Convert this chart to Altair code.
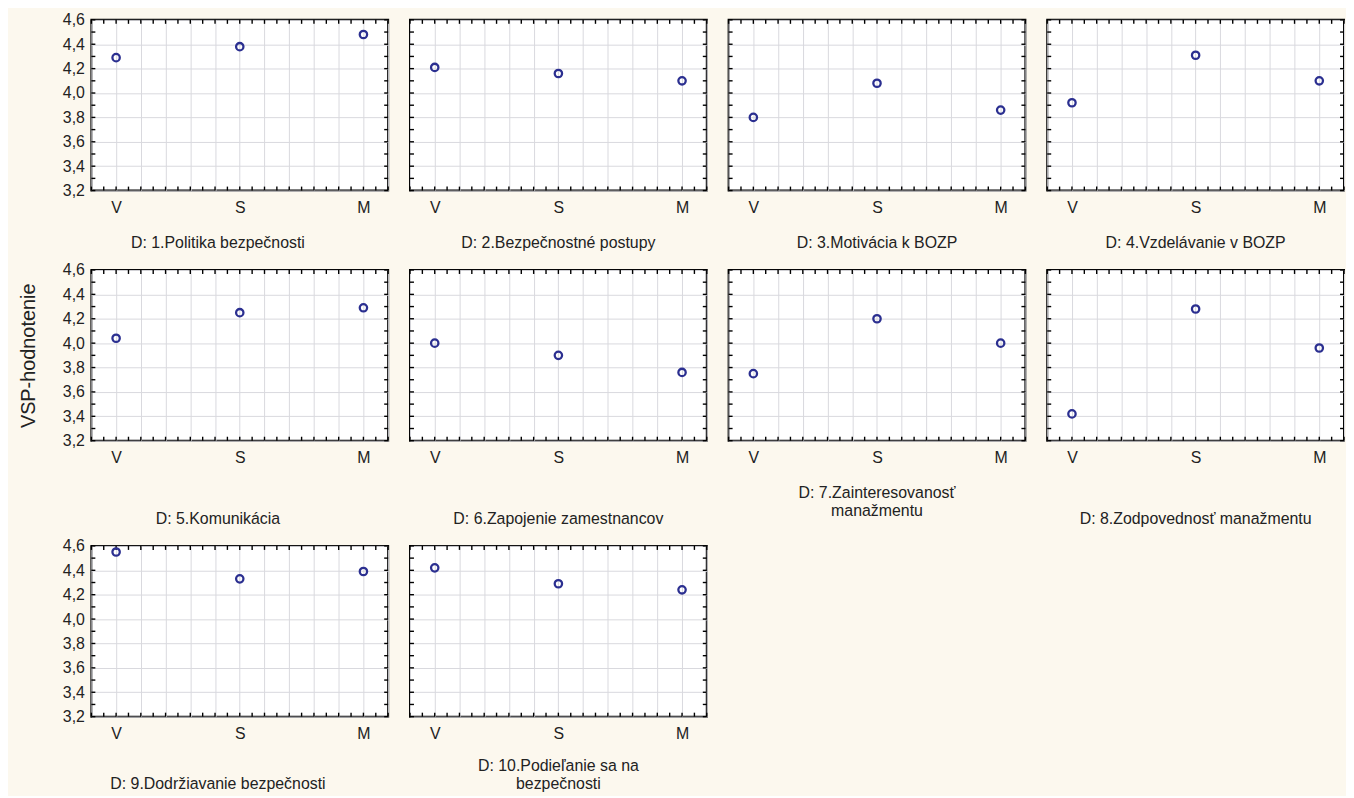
import json
import altair as alt
import pandas as pd

# ---------------- data ----------------
CATS = ["V", "S", "M"]
TITLES = [
    ["D: 1.Politika bezpečnosti"],
    ["D: 2.Bezpečnostné postupy"],
    ["D: 3.Motivácia k BOZP"],
    ["D: 4.Vzdelávanie v BOZP"],
    ["D: 5.Komunikácia"],
    ["D: 6.Zapojenie zamestnancov"],
    ["D: 7.Zainteresovanosť", "manažmentu"],
    ["D: 8.Zodpovednosť manažmentu"],
    ["D: 9.Dodržiavanie bezpečnosti"],
    ["D: 10.Podieľanie sa na", "bezpečnosti"],
]
V_VALUES = [4.29, 4.21, 3.80, 3.92, 4.04, 4.00, 3.75, 3.42, 4.55, 4.42]
S_VALUES = [4.38, 4.16, 4.08, 4.31, 4.25, 3.90, 4.20, 4.28, 4.33, 4.29]
M_VALUES = [4.48, 4.10, 3.86, 4.10, 4.29, 3.76, 4.00, 3.96, 4.39, 4.24]

Y_GRID = [3.2, 3.4, 3.6, 3.8, 4.0, 4.2, 4.4, 4.6]
X_GRID = [-0.2, 0, 0.2, 0.4, 0.6, 0.8, 1, 1.2, 1.4, 1.6, 1.8, 2, 2.2]
Y_MINOR = [3.2, 3.3, 3.4, 3.5, 3.6, 3.7, 3.8, 3.9, 4.0, 4.1, 4.2, 4.3, 4.4, 4.5, 4.6]
X_MINOR = [-0.2, -0.1, 0, 0.1, 0.2, 0.3, 0.4, 0.5, 0.6, 0.7, 0.8, 0.9, 1,
           1.1, 1.2, 1.3, 1.4, 1.5, 1.6, 1.7, 1.8, 1.9, 2, 2.1, 2.2]
Y_TITLE = "VSP-hodnotenie"

# ---------------- style ----------------
W, H = 299, 172
FONT = "Liberation Sans"
BG = "#FCF8EE"
TEXT = "#222222"
POINT_COLOR = "#2B2F90"
GRID = "#D9D9DE"
TICK_LEN = 4
TITLE_OFFSETS = [20, 20, 20, 20, 46, 46, 20, 46, 35, 17]
FIRST_COL_TITLE_DX = -22

xscale = alt.Scale(domain=[-0.2, 2.2], nice=False, zero=False)
yscale = alt.Scale(domain=[3.2, 4.6], nice=False, zero=False)

x_label_expr = json.dumps(CATS) + "[datum.value] || ''"
y_label_expr = "replace(format(datum.value, '.1f'), '.', ',')"


def panel(i):
    col = i % 4
    df = pd.DataFrame({
        "cat": CATS,
        "pos": [CATS.index(c) for c in CATS],
        "value": [V_VALUES[i], S_VALUES[i], M_VALUES[i]],
    })
    yaxis_kw = dict(values=Y_GRID, grid=True, gridColor=GRID, gridWidth=1,
                    ticks=False, domain=False, labelExpr=y_label_expr,
                    labelOverlap=False, labelFlush=False,
                    labelPadding=7, labelFontSize=16, labelColor=TEXT,
                    labelFont=FONT)
    if col == 0:
        yaxis_kw.update(title=Y_TITLE, titleFontSize=20, titleFont=FONT,
                        titleFontWeight="normal", titleColor=TEXT,
                        titlePadding=24, titleOpacity=1 if i == 4 else 0)
    else:
        yaxis_kw.update(labels=False, title=None)
    yaxis = alt.Axis(**yaxis_kw)
    xaxis = alt.Axis(values=X_GRID, grid=True, gridColor=GRID, gridWidth=1,
                     ticks=False, domain=False, labelExpr=x_label_expr,
                     labelOverlap=False, labelFlush=False, labelPadding=9,
                     labelFontSize=16, labelColor=TEXT, labelFont=FONT,
                     title=None)

    pts = alt.Chart(df).mark_point(
        shape="circle", filled=False, size=55, strokeWidth=2.3,
        color=POINT_COLOR, opacity=1
    ).encode(
        x=alt.X("pos:Q", scale=xscale, axis=xaxis),
        y=alt.Y("value:Q", scale=yscale, axis=yaxis),
    )

    ydf = pd.DataFrame({"value": Y_MINOR})
    xdf = pd.DataFrame({"pos": X_MINOR})
    rule = dict(color="black", strokeWidth=1.4)
    left = alt.Chart(ydf).mark_rule(**rule).encode(
        y=alt.Y("value:Q", scale=yscale, axis=yaxis),
        x=alt.value(0), x2=alt.value(TICK_LEN))
    right = alt.Chart(ydf).mark_rule(**rule).encode(
        y=alt.Y("value:Q", scale=yscale, axis=yaxis),
        x=alt.value(W - TICK_LEN), x2=alt.value(W))
    top = alt.Chart(xdf).mark_rule(**rule).encode(
        x=alt.X("pos:Q", scale=xscale, axis=xaxis),
        y=alt.value(0), y2=alt.value(TICK_LEN))
    bottom = alt.Chart(xdf).mark_rule(**rule).encode(
        x=alt.X("pos:Q", scale=xscale, axis=xaxis),
        y=alt.value(H - TICK_LEN), y2=alt.value(H))

    return alt.layer(left, right, top, bottom, pts).properties(
        width=W, height=H,
        title=alt.TitleParams(text=TITLES[i], orient="bottom", anchor="middle",
                              font=FONT, fontSize=16, fontWeight="normal",
                              color=TEXT, offset=TITLE_OFFSETS[i],
                              dx=FIRST_COL_TITLE_DX if col == 0 else 0,
                              lineHeight=18),
    )


panels = [panel(i) for i in range(len(TITLES))]
rows = [
    alt.hconcat(*panels[0:4], spacing=18),
    alt.hconcat(*panels[4:8], spacing=18),
    alt.hconcat(*panels[8:10], spacing=18),
]
chart = alt.vconcat(*rows, spacing=9).properties(
    background=BG,
    padding={"left": 9, "top": 0, "right": 0, "bottom": 0},
).configure_view(stroke="black", strokeWidth=2, fill="white")

chart.save("out.html", embed_options={"renderer": "svg", "actions": False})
